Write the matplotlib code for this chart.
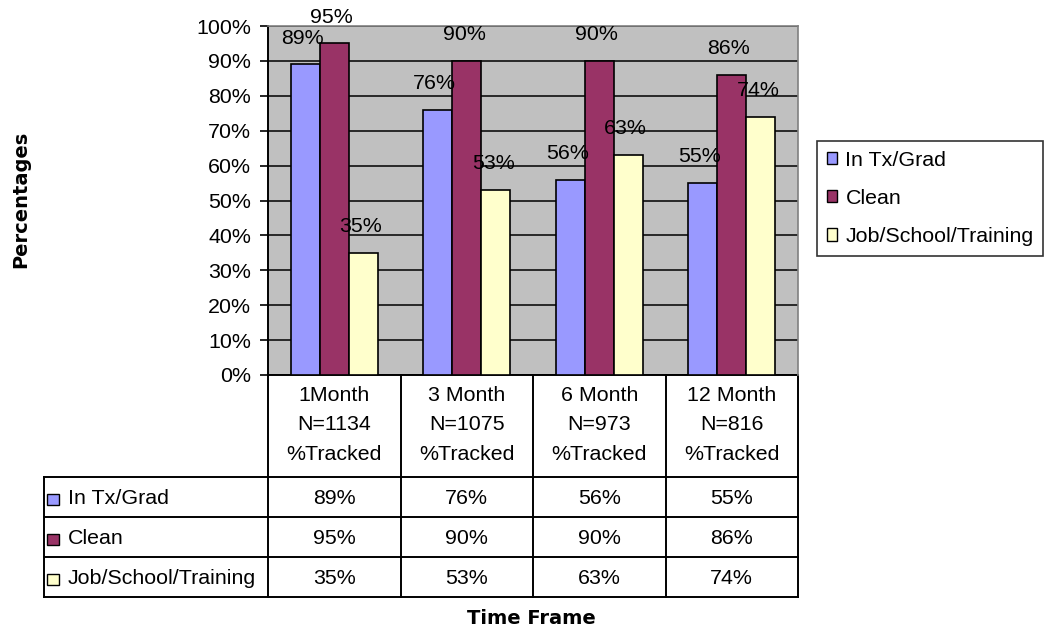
import matplotlib
matplotlib.use('Agg')
import numpy as np
from matplotlib import pyplot as plt
from matplotlib.patches import Rectangle
from matplotlib.lines import Line2D

plt.rcParams['font.family'] = ['Liberation Sans', 'DejaVu Sans']
plt.rcParams['font.size'] = 15.4

# ----- DATA ----- #
periods = ['1Month', '3 Month', '6 Month', '12 Month']
n_tracked = ['N=1134', 'N=1075', 'N=973', 'N=816']
series = ['In Tx/Grad', 'Clean', 'Job/School/Training']
in_tx_grad = [89, 76, 56, 55]
clean = [95, 90, 90, 86]
job_school = [35, 53, 63, 74]
values = [in_tx_grad, clean, job_school]
colors = ['#9999FF', '#993366', '#FFFFCC']

# ----- FIGURE ----- #
W, H = 1044, 631
fig = plt.figure(figsize=(W / 100, H / 100), dpi=100)
ax = fig.add_axes([268 / W, 1 - 375 / H, 530 / W, 349 / H])
ax.set_facecolor('#C0C0C0')

x = np.arange(len(periods))
bw = 0.22
for i, (name, vals, col) in enumerate(zip(series, values, colors)):
    xs = x + (i - 1) * bw
    ax.bar(xs, vals, bw, color=col, edgecolor='black', linewidth=1.2,
           label=name, zorder=3)
    for xv, v in zip(xs, vals):
        ax.annotate(f'{v}%', (xv, v), xytext=(-2, 19), textcoords='offset points',
                    ha='center', va='center', zorder=5,
                    annotation_clip=False)

ax.set_xlim(-0.5, len(periods) - 0.5)
ax.set_ylim(0, 100)
ax.set_yticks(range(0, 101, 10))
ax.set_yticklabels([f'{t}%' for t in range(0, 101, 10)])
ax.yaxis.grid(True, color='black', linewidth=1.1, zorder=0)
ax.set_axisbelow(True)
ax.set_xticks([])
ax.tick_params(axis='y', length=6, width=1.2, pad=6, direction='out')
for s in ['left', 'bottom']:
    ax.spines[s].set_linewidth(1.4)
for s in ['top', 'right']:
    ax.spines[s].set_color('#808080')
    ax.spines[s].set_linewidth(1.2)
    ax.spines[s].set_zorder(4)

# ----- DATA TABLE ----- #
trans = ax.get_xaxis_transform()
left = -0.5 - (268 - 44) / 132.5
right = len(periods) - 0.5
row_y = [0, -102 / 349, -142 / 349, -182 / 349, -222 / 349]
lw = 1.4

for b in np.arange(-0.5, len(periods), 1.0):
    ax.add_line(Line2D([b, b], [0, row_y[-1]], transform=trans, color='black',
                       lw=lw, clip_on=False))
ax.add_line(Line2D([left, left], [row_y[1], row_y[-1]], transform=trans,
                   color='black', lw=lw, clip_on=False))
for yy in row_y[1:]:
    ax.add_line(Line2D([left, right], [yy, yy], transform=trans, color='black',
                       lw=lw, clip_on=False))

for xi, (p, n) in enumerate(zip(periods, n_tracked)):
    ax.text(xi, row_y[1] / 2 + 1 / 349, f'{p}\n{n}\n%Tracked', transform=trans,
            ha='center', va='center', linespacing=1.68, clip_on=False)

sq_w = 12 / 132.5
sq_h = 11 / 349
for r, (name, vals, col) in enumerate(zip(series, values, colors)):
    yc = (row_y[r + 1] + row_y[r + 2]) / 2 - 2 / 349
    ax.add_patch(Rectangle((left + 3 / 132.5, yc - sq_h / 2), sq_w, sq_h,
                           transform=trans, facecolor=col, edgecolor='black',
                           lw=1, clip_on=False))
    ax.text(-0.5 - 200 / 132.5, yc, name, transform=trans, ha='left',
            va='center', clip_on=False)
    for xi, v in enumerate(vals):
        ax.text(xi, yc, f'{v}%', transform=trans, ha='center', va='center',
                clip_on=False)

# ----- LEGEND / LABELS ----- #
handles = [Rectangle((0, 0), 1, 1, facecolor=c, edgecolor='black', lw=1)
           for c in colors]
leg = fig.legend(handles, series, loc='upper left',
                 bbox_to_anchor=(817 / W, 1 - 141 / H), frameon=True,
                 fancybox=False, handlelength=0.5, handleheight=0.5,
                 handletextpad=0.38, labelspacing=0.9, borderpad=0.45,
                 borderaxespad=0)
leg.get_frame().set_edgecolor('black')
leg.get_frame().set_linewidth(1.2)

fig.text(21 / W, 1 - 199 / H, 'Percentages', rotation=90, ha='center',
         va='center', fontweight='bold', fontsize=14, family='DejaVu Sans')
fig.text(531 / W, 1 - 618 / H, 'Time Frame', ha='center', va='center',
         fontweight='bold', fontsize=14, family='DejaVu Sans')

fig.savefig('out.png', dpi=100)
